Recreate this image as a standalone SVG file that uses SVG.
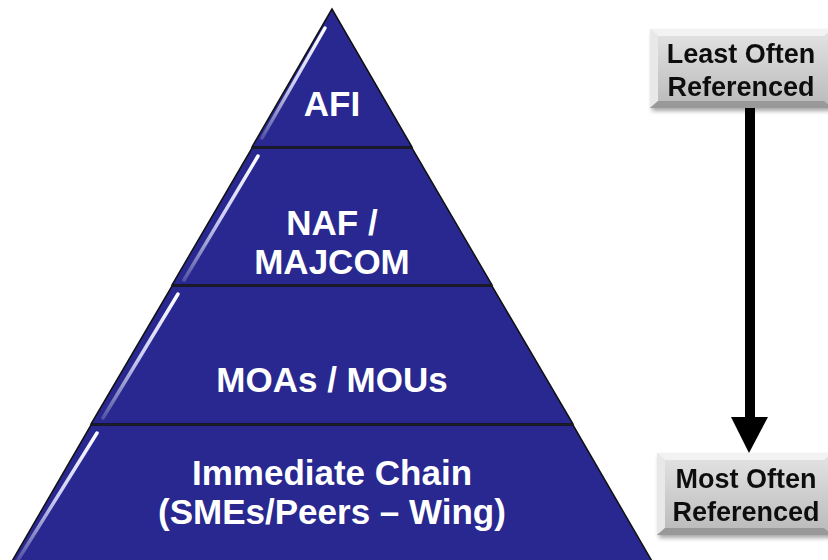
<svg xmlns="http://www.w3.org/2000/svg" width="828" height="560" viewBox="0 0 828 560">
<defs>
<linearGradient id="gbox" x1="0" y1="0" x2="0" y2="1">
<stop offset="0" stop-color="#e4e4e4"/>
<stop offset="1" stop-color="#b9b9b9"/>
</linearGradient>
<linearGradient id="hl" x1="0" y1="1" x2="0" y2="0">
<stop offset="0" stop-color="#ffffff" stop-opacity="0.2"/>
<stop offset="0.5" stop-color="#dfe0ff" stop-opacity="0.9"/>
<stop offset="1" stop-color="#ffffff" stop-opacity="1"/>
</linearGradient>
<filter id="sh" x="-10%" y="-10%" width="130%" height="130%">
<feDropShadow dx="2" dy="3" stdDeviation="2" flood-color="#000" flood-opacity="0.35"/>
</filter>
</defs>
<style>
.band{fill:#282890;stroke:#111;stroke-width:1.5}
.hl{fill:none;stroke:url(#hl);stroke-width:3.5;stroke-linecap:round}
.pt{font-family:"Liberation Sans",Arial,sans-serif;font-weight:bold;font-size:35px;fill:#fff;text-anchor:middle}
.bt{font-family:"Liberation Sans",Arial,sans-serif;font-weight:bold;font-size:27px;fill:#111;text-anchor:middle}
.box{fill:url(#gbox)}
</style>
<rect width="828" height="560" fill="#fff"/>
<g id="afi">
<polygon class="band" points="332,9 252,147 412,147"/>
<polyline class="hl" points="325,28 262,138"/>
<text class="pt" x="332" y="116">AFI</text>
</g>
<g id="naf">
<polygon class="band" points="252,148 412,148 492,285 172,285"/>
<polyline class="hl" points="258,156 184,280"/>
<text class="pt" x="332" y="235">NAF /</text>
<text class="pt" x="332" y="274">MAJCOM</text>
</g>
<g id="moa">
<polygon class="band" points="172,286 492,286 573,424 91,424"/>
<polyline class="hl" points="178,294 103,418"/>
<text class="pt" x="332" y="392">MOAs / MOUs</text>
</g>
<g id="chain">
<polygon class="band" points="91,425 573,425 660,575 4,575"/>
<polyline class="hl" points="97,433 18,560"/>
<text class="pt" x="332" y="485">Immediate Chain</text>
<text class="pt" x="332" y="524">(SMEs/Peers – Wing)</text>
</g>
<g id="connectors">
<rect x="745" y="108" width="10" height="312" fill="#000"/>
<polygon points="731,417 768,417 749,453" fill="#000"/>
</g>
<g id="least" filter="url(#sh)">
<rect class="box" x="650" y="29" width="182" height="79"/>
<polygon points="650,29 832,29 824,36 658,36" fill="#f2f2f2"/>
<polygon points="650,29 658,36 658,101 650,108" fill="#e8e8e8"/>
<polygon points="650,108 658,101 824,101 832,108" fill="#999"/>
<text class="bt" x="741" y="63">Least Often</text>
<text class="bt" x="741" y="96">Referenced</text>
</g>
<g id="most" filter="url(#sh)">
<rect class="box" x="657" y="453" width="175" height="82"/>
<polygon points="657,453 832,453 824,460 665,460" fill="#f2f2f2"/>
<polygon points="657,453 665,460 665,528 657,535" fill="#e8e8e8"/>
<polygon points="657,535 665,528 824,528 832,535" fill="#999"/>
<text class="bt" x="746" y="488">Most Often</text>
<text class="bt" x="746" y="521">Referenced</text>
</g>
</svg>
